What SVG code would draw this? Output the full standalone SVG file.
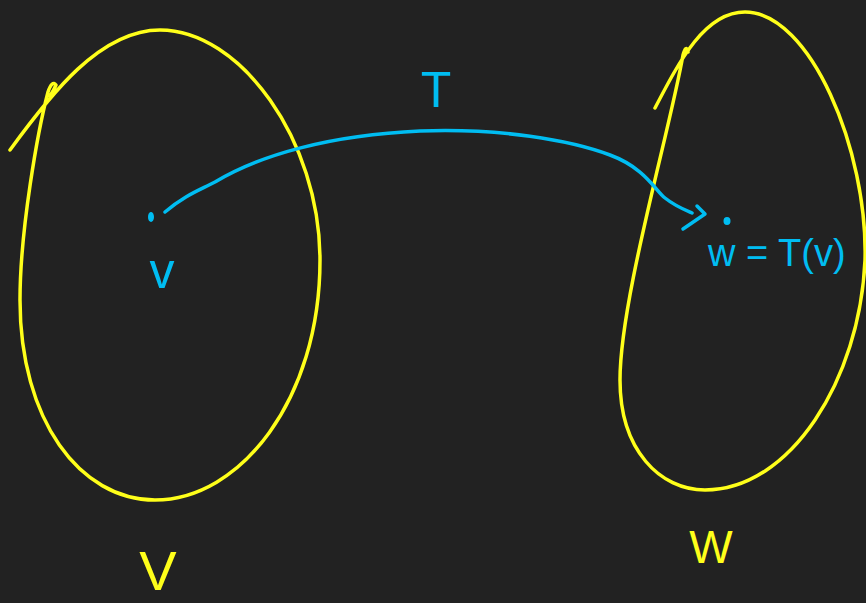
<svg xmlns="http://www.w3.org/2000/svg" width="866" height="603" viewBox="0 0 866 603">
<style>
.y{fill:none;stroke:#ffff1a;stroke-width:3.5;stroke-linecap:round;stroke-linejoin:round}
.b{fill:none;stroke:#00bdf2;stroke-width:3.5;stroke-linecap:round;stroke-linejoin:round}
.bt{fill:#00bdf2;font-family:"Liberation Sans",Arial,sans-serif}
.yt{fill:#ffff1a;font-family:"Liberation Sans",Arial,sans-serif}
</style>
<rect width="866" height="603" fill="#222222"/>
<g id="setV">
<path class="y" d="M 10,150 C 50,95 100,30 160,30 C 240,30 320,140 320,260 C 320,400 240,500 155,500 C 80,500 20,420 20,300 C 20,230 38,130 48,92 Q 52,80 56,85 Q 54,90 50,96"/>
<text class="yt" x="158" y="590" font-size="56" text-anchor="middle">V</text>
</g>
<g id="setW">
<path class="y" d="M 655,108 C 680,60 705,12 745,12 C 810,12 868,150 865,260 C 860,380 790,490 705,490 C 660,490 620,450 620,380 C 620,300 670,130 683,55 Q 686,44 688,52"/>
<text class="yt" x="711" y="563" font-size="46" text-anchor="middle">W</text>
</g>
<g id="pointV">
<ellipse cx="151" cy="217" rx="3" ry="5" fill="#00bdf2"/>
<text class="bt" x="162" y="288" font-size="50" text-anchor="middle">v</text>
</g>
<g id="pointW">
<ellipse cx="727" cy="221" rx="3.5" ry="4" fill="#00bdf2"/>
<text class="bt" x="708" y="266" font-size="38">w = T(v)</text>
</g>
<g id="connectors">
<path class="b" d="M 165,212 C 185,195 200,190 215,182 C 260,155 330,135 420,131 C 500,128 570,140 610,155 C 645,168 655,190 665,198 C 675,206 685,210 692,213"/>
<path class="b" d="M 697,206 L 705,214 L 683,229"/>
<text class="bt" x="436" y="107" font-size="50" text-anchor="middle">T</text>
</g>
</svg>
